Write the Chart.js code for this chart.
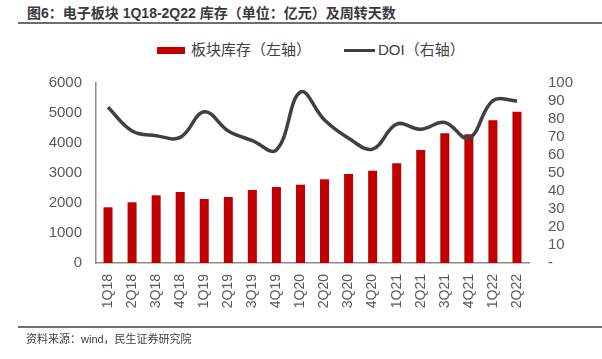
<!DOCTYPE html>
<html><head><meta charset="utf-8">
<script src="https://cdn.jsdelivr.net/npm/chart.js@4"></script>
<style>
html,body{margin:0;padding:0;background:#fff;}
#wrap{position:relative;width:602px;height:359px;overflow:hidden;font-family:"Liberation Sans","Noto Sans CJK SC",sans-serif;}
#c{position:absolute;left:0;top:0;}
.title{position:absolute;left:27px;top:4px;font-size:14px;font-weight:bold;color:#3a3a3a;font-family:"Liberation Sans","Noto Sans CJK SC",sans-serif;white-space:nowrap;line-height:18px;}
.hr{position:absolute;left:18px;right:0;height:2px;background:#6e6e6e;}
.src{position:absolute;left:26px;top:332px;font-size:11px;color:#404040;font-family:"Liberation Sans","Noto Sans CJK SC",sans-serif;white-space:nowrap;line-height:14px;}
.leg{position:absolute;top:41px;font-size:15px;color:#404040;font-family:"Liberation Sans","Noto Sans CJK SC",sans-serif;white-space:nowrap;line-height:18px;}
.sw{position:absolute;}
</style></head>
<body><div id="wrap">
<div class="title">图6：电子板块 1Q18-2Q22 库存（单位：亿元）及周转天数</div>
<div class="hr" style="top:22px"></div>
<div class="sw" style="left:157px;top:47px;width:28px;height:7px;background:#c00000"></div>
<div class="leg" style="left:191px">板块库存（左轴）</div>
<div class="sw" style="left:344px;top:49px;width:31px;height:3px;background:#404040"></div>
<div class="leg" style="left:378px">DOI（右轴）</div>
<canvas id="c" width="602" height="359"></canvas>
<div class="hr" style="top:326px"></div>
<div class="src">资料来源：wind，民生证券研究院</div>
</div>
<script>
const categories = ["1Q18","2Q18","3Q18","4Q18","1Q19","2Q19","3Q19","4Q19","1Q20","2Q20","3Q20","4Q20","1Q21","2Q21","3Q21","4Q21","1Q22","2Q22"];
const inventory = [1857,2023,2257,2367,2133,2200,2433,2533,2610,2790,2967,3077,3323,3767,4323,4290,4757,5043];
const doi = [86.5,73.3,70.7,69.8,84,73.3,68,62.8,95,79.4,69.3,63.3,77.2,74.3,78.1,69.3,90.2,90];
const leftTicks = [0,1000,2000,3000,4000,5000,6000];
const rightTicks = [0,10,20,30,40,50,60,70,80,90,100];

const tickFont = {family:"Liberation Sans, Arial, sans-serif", size:15};
const xFont = {family:"Liberation Sans, Arial, sans-serif", size:14};
const tickColor = "#595959";

new Chart(document.getElementById('c'), {
  data: {
    labels: categories,
    datasets: [
      {type:'line', label:'DOI（右轴）', data:doi, yAxisID:'y1', borderColor:'#404040', borderWidth:3.5, pointRadius:0, tension:0.4, order:0, fill:false},
      {type:'bar', label:'板块库存（左轴）', data:inventory, yAxisID:'y', backgroundColor:'#c00000', barPercentage:0.375, categoryPercentage:1, order:1}
    ]
  },
  options: {
    responsive:false, animation:false, devicePixelRatio:1,
    layout:{padding:{top:83,bottom:0,left:0,right:0}},
    plugins:{legend:{display:false}, tooltip:{enabled:false}},
    scales:{
      x:{
        grid:{display:false, drawTicks:false},
        border:{display:true,color:'#8c8c8c',width:1.5},
        ticks:{minRotation:90,maxRotation:90,padding:11,font:xFont,color:tickColor,autoSkip:false},
        afterFit:(s)=>{s.height=96;}
      },
      y:{
        position:'left', min:0, max:6000,
        afterBuildTicks:(s)=>{s.ticks=leftTicks.map(v=>({value:v}));},
        grid:{display:false, drawTicks:false},
        border:{display:true,color:'#8c8c8c',width:1.5},
        ticks:{padding:14,font:tickFont,color:tickColor,autoSkip:false,callback:(v)=>String(v)},
        afterFit:(s)=>{s.width=96;}
      },
      y1:{
        position:'right', min:0, max:100,
        afterBuildTicks:(s)=>{s.ticks=rightTicks.map(v=>({value:v}));},
        grid:{display:false, drawTicks:false},
        border:{display:false},
        ticks:{padding:19,font:tickFont,color:tickColor,autoSkip:false,callback:(v)=> v===0?'-':String(v)},
        afterFit:(s)=>{s.width=73;}
      }
    }
  }
});
</script>
</body></html>
